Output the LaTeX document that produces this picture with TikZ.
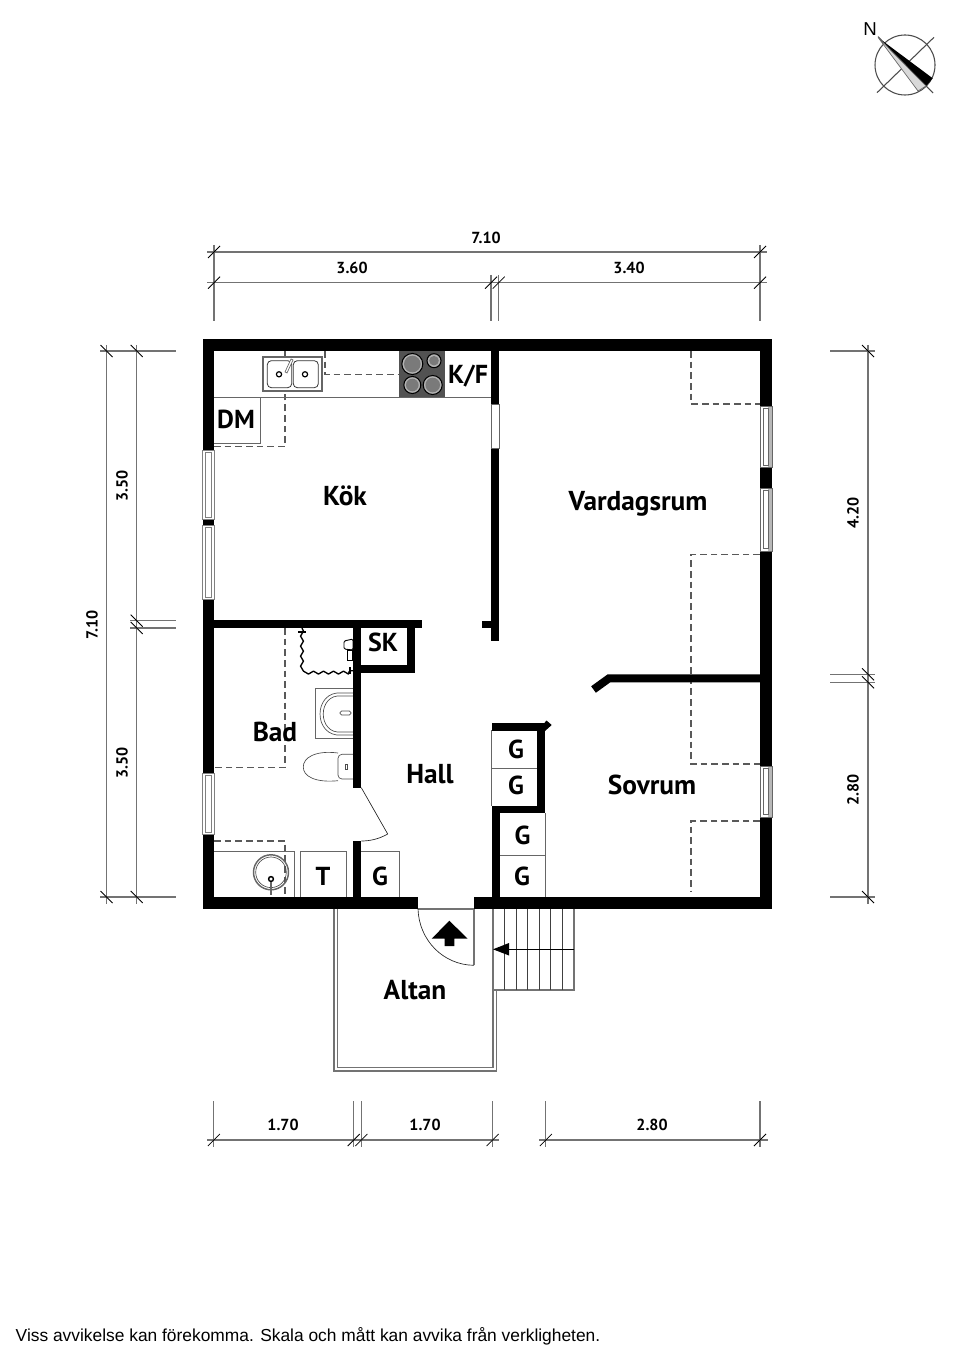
\documentclass[tikz,border=0pt]{standalone}
\usepackage{fontspec}
\setmainfont{Liberation Sans}
\newfontfamily\planfont{PT Sans}
\usetikzlibrary{decorations.pathmorphing}
\tikzset{
	room/.style={font=\planfont\bfseries\fontsize{20.5}{24}\selectfont},
	cell/.style={font=\planfont\bfseries\fontsize{19.5}{22}\selectfont},
	meas/.style={font=\planfont\bfseries\fontsize{12}{14}\selectfont},
	wall/.style={line width=6pt},
	dim/.style={draw=black!55,line width=0.85pt},
	slash/.style={draw=black,line width=0.6pt},
	hidden/.style={draw=black!65,line width=0.8pt,dash pattern=on 5pt off 3pt},
	fix/.style={draw=black!60,line width=0.6pt},
	thin line/.style={draw=black!70,line width=0.5pt},
	gutter/.style={draw=black!55,line width=0.85pt},
}
\newcommand{\tickup}[2]{\draw[slash] (#1-6,#2+6) -- (#1+6,#2-6);}
\newcommand{\tickdn}[2]{\draw[slash] (#1-6,#2-6) -- (#1+6,#2+6);}
\newcommand{\winl}[3]{\fill[white] (#1,#2) rectangle (#1+11.7,#3); \draw[fix,draw=black!50] (#1,#2) rectangle (#1+11.7,#3); \draw[fix,draw=black!50,line width=0.4pt] (#1+2.5,#2+2) rectangle (#1+9,#3-2);}
\newcommand{\winr}[3]{\fill[white] (#1,#2) rectangle (#1+11.7,#3); \fill[black!28] (#1+8,#2) rectangle (#1+11.7,#3); \draw[fix] (#1,#2) rectangle (#1+11.7,#3); \draw[fix,line width=0.4pt] (#1+3.3,#2+2.5) rectangle (#1+8,#3-2.5);}
\begin{document}
\begin{tikzpicture}[x=0.75pt,y=-0.75pt]
	\useasboundingbox (0,0) rectangle (960,1358);
	% dimensions top
	\draw[dim] (207,252) -- (767,252); \draw[dim] (207,282.7) -- (497,282.7); \draw[dim] (492,282.7) -- (767,282.7);
	\draw[dim] (214,245) -- (214,321); \draw[dim] (491,275) -- (491,321); \draw[dim] (498.7,275) -- (498.7,321); \draw[dim] (760,245) -- (760,321);
	\tickup{214}{252} \tickup{760}{252} \tickup{214}{282.7} \tickup{491}{282.7} \tickup{498.7}{282.7} \tickup{760}{282.7}
	\draw (486,238) node[meas] (topall) {7.10}; \draw (352,268) node[meas] (topleft) {3.60}; \draw (629,268) node[meas] (topright) {3.40};
	% dimensions left
	\draw[dim] (106.5,345) -- (106.5,904); \draw[dim] (136.7,345) -- (136.7,904);
	\draw[dim] (100,351) -- (176,351); \draw[dim] (100,897) -- (176,897); \draw[dim] (130,620.7) -- (176,620.7); \draw[dim] (130,628) -- (176,628);
	\tickdn{106.5}{351} \tickdn{106.5}{897} \tickdn{136.7}{351} \tickdn{136.7}{620.7} \tickdn{136.7}{628} \tickdn{136.7}{897}
	\draw (92,625) node[meas,rotate=90] (leftall) {7.10}; \draw (122,486) node[meas,rotate=90] (leftup) {3.50}; \draw (122,763) node[meas,rotate=90] (leftdn) {3.50};
	% dimensions right
	\draw[dim] (868,345) -- (868,904);
	\draw[dim] (830,351) -- (875,351); \draw[dim] (830,674.3) -- (875,674.3); \draw[dim] (830,682.3) -- (875,682.3); \draw[dim] (830,897) -- (875,897);
	\tickdn{868}{351} \tickdn{868}{674.3} \tickdn{868}{682.3} \tickdn{868}{897}
	\draw (853,513) node[meas,rotate=90] (rightup) {4.20}; \draw (853,790) node[meas,rotate=90] (rightdn) {2.80};
	% dimensions bottom
	\draw[dim] (207,1140) -- (359,1140); \draw[dim] (356,1140) -- (499,1140); \draw[dim] (539,1140) -- (768,1140);
	\foreach \xd in {213.8,353.7,361.3,492.6,545.8,760} {\draw[dim] (\xd,1101) -- (\xd,1147); \tickup{\xd}{1140}}
	\draw (283,1125) node[meas] (botone) {1.70}; \draw (425,1125) node[meas] (bottwo) {1.70}; \draw (652,1125) node[meas] (botthree) {2.80};
	% altan and stairs
	\draw[gutter] (334,909) -- (334,1071) -- (496.7,1071) -- (496.7,990); \draw[gutter] (337.3,909) -- (337.3,1067.7) -- (493,1067.7) -- (493,909);
	\draw[gutter] (493,990) -- (574,990) -- (574,909);
	\foreach \xs in {504.7,516,527.3,539,550.7,562} {\draw[thin line,draw=black!75] (\xs,909) -- (\xs,990);}
	\draw[thin line,draw=black] (574,949.3) -- (505,949.3); \fill (493,949.3) -- (509,943) -- (509,955.5) -- cycle;
	\draw[gutter] (418,909) -- (474,909) -- (474,965.3); \draw[thin line,draw=black!85] (418,909) .. controls (419,940) and (443,965) .. (474,965.3);
	\fill (449.3,920.7) -- (467.7,938.7) -- (454.3,938.7) -- (454.3,946) -- (444.7,946) -- (444.7,938.7) -- (431.7,938.7) -- cycle;
	% hidden lines
	\draw[hidden] (214,446.7) -- (285,446.7) -- (285,351); \draw[hidden] (325,351) -- (325,374.3) -- (399,374.3);
	\draw[hidden] (691,351) -- (691,404) -- (760,404); \draw[hidden] (760,554.7) -- (691,554.7) -- (691,764) -- (760,764); \draw[hidden] (760,821) -- (691,821) -- (691,891);
	\draw[hidden] (285,628) -- (285,767.3) -- (214,767.3); \draw[hidden] (214,841) -- (285,841) -- (285,897);
	% kitchen
	\draw[fix] (214,397.3) -- (491,397.3); \draw[fix] (214,443.3) -- (260.3,443.3) -- (260.3,397.3);
	\fill[white] (263.3,357.3) rectangle (321.7,391); \draw[fix,line width=1.3pt] (263.3,357.3) rectangle (321.7,391);
	\draw[fix,draw=black!80,rounded corners=3pt] (267.3,360.7) rectangle (291.7,387.7); \draw[fix,draw=black!80,rounded corners=3pt] (293.3,360.7) rectangle (318.3,387.7);
	\foreach \xs in {279,305} {\draw[black,line width=0.9pt,fill=white] (\xs,374.3) circle (2.6);}
	\draw[fix,fill=white,line width=0.5pt] (285,372) -- (291,359) -- (293,360) -- (287,373) -- cycle;
	\fill[black!68] (399,351) rectangle (445,397.3);
	\foreach \xb/\yb/\rb in {412.3/364/10.5,434/360.7/7,412.3/385/8.5,432.7/385/9.5} {\draw[black,fill=black!30,line width=0.8pt] (\xb,\yb) circle (\rb); \fill[black!52] (\xb,\yb) circle (\rb-2.2);}
	% bath
	\draw[fix] (315.7,688.3) rectangle (353,738.3);
	\draw[thin line] (353,693) -- (342,693) .. controls (312.7,690) and (312.7,738) .. (342,735) -- (353,735); \draw[thin line] (353,696) -- (342,696) .. controls (317,693) and (317,735) .. (342,732) -- (353,732);
	\draw[thin line,fill=white,rounded corners=1.2pt] (340,711) rectangle (351,715);
	\draw[thin line] (338,753) .. controls (315,750) and (303,758) .. (303.3,767) .. controls (303,776) and (315,783) .. (338,780.7);
	\draw[thin line,rounded corners=3pt] (353,754.3) -- (338,754.3) -- (338,779) -- (353,779);
	\draw[thin line] (345.5,764.5) rectangle (347.5,769);
	\draw[black,line width=1pt,line join=round,decorate,decoration={snake,amplitude=1.1,segment length=7.5}] (302,628) -- (302,670.7) -- (353,670.7);
	\draw[black,line width=1pt] (298,632) -- (306,632); \draw[black,line width=1pt] (350,667) -- (350,674);
	\draw[thin line,draw=black,line width=0.7pt,fill=white,rounded corners=1pt] (344,641) -- (353,639) -- (353,650) -- (344,649) -- cycle; \draw[thin line,draw=black,line width=0.7pt,fill=white] (347,650) rectangle (352,660);
	\draw[fix] (214,851.3) -- (294.3,851.3) -- (294.3,897); \draw[fix] (300,897) -- (300,851.3) -- (346,851.3) -- (346,897); \draw[fix] (361,851.7) -- (399.3,851.7) -- (399.3,897);
	\draw[black!60,line width=1.1pt] (271,872.3) circle (17.5); \draw[thin line] (271,872.3) circle (15.3);
	\draw[black,line width=1.1pt] (271,879) circle (2.4); \draw[black!60,line width=1.2pt] (271,882) -- (271,895);
	% closets
	\draw[fix] (491.7,730) -- (491.7,806); \draw[fix] (491.7,768.3) -- (537.3,768.3); \draw[fix] (500,855.3) -- (545,855.3); \draw[fix] (545,813) -- (545,897);
	% walls
	\fill (202.5,339.5) rectangle (772,351); \fill (202.5,339.5) rectangle (214.3,909); \fill (760,339.5) rectangle (772,909);
	\fill (202.5,897.3) rectangle (418.3,909); \fill (474,897.3) rectangle (772,909);
	\fill (491,351) rectangle (499,640.7); \fill (482.3,620.7) rectangle (491,628);
	\fill (214,620) rectangle (422,628); \fill (407.3,628) rectangle (415,672.7); \fill (353,665) rectangle (415,672.7);
	\fill (353,620) rectangle (361.3,787.7); \fill (353,840.7) rectangle (361.3,897.3);
	\draw[wall] (760,678.3) -- (609,678.3) -- (593.5,689.5);
	\fill (491.7,723.3) rectangle (545,730.7); \fill (537.3,723.3) rectangle (545,813.3); \fill (491.7,805.7) rectangle (545,813.3); \fill (491.7,805.7) rectangle (500,897.3);
	\fill (546.5,720.5) -- (551.7,725) -- (545,731) -- (541,727) -- cycle;
	% openings
	\fill[white] (491,404) rectangle (499,448); \draw[fix] (491,404) rectangle (499,448);
	\winl{202.5}{450}{519} \winl{202.5}{525.7}{599} \winl{202.5}{773}{834}
	\winr{760.3}{406}{467.7} \winr{760.3}{488}{551} \winr{760.3}{766}{817}
	% hall door
	\draw[thin line,draw=black!85] (361.3,787.7) -- (387.7,834) .. controls (379,839) and (370,841) .. (361.3,841);
	% compass
	\draw[black!70,line width=0.8pt] (905,65) circle (30); \draw[black!70,line width=0.8pt] (877,92.7) -- (934,37.3); \draw[black!70,line width=0.8pt] (878,36.7) -- (933,93);
	\fill (878.3,37.7) -- (932.7,78.3) -- (926,86) -- cycle; \draw[black!60,fill=black!15,line width=0.5pt] (878.3,37.7) -- (926,86) -- (918,91) -- cycle;
	\draw (870,29.5) node[font=\fontsize{14}{18}\selectfont] (north) {N};
	% rooms
	\draw (345,495.5) node[room] (kok) {Kök}; \draw (638,504) node[room] (vardagsrum) {Vardagsrum}; \draw (275,732) node[room] (bad) {Bad}; \draw (430,774) node[room] (hall) {Hall};
	\draw (652,785) node[room] (sovrum) {Sovrum}; \draw (415,990) node[room] (altan) {Altan};
	\draw (383,642) node[cell] (sk) {SK}; \draw (236,419) node[cell] (dm) {DM}; \draw (468,376) node[cell] (kf) {K/F}; \draw (323,876) node[cell] (tt) {T}; \draw (380,876) node[cell] (gone) {G};
	\draw (516,749) node[cell] (gtwo) {G}; \draw (516,785) node[cell] (gthree) {G}; \draw (522.5,835) node[cell] (gfour) {G}; \draw (522,876) node[cell] (gfive) {G};
	\draw (308,1336) node[font=\fontsize{13.03}{15}\selectfont] (note) {Viss avvikelse kan förekomma. Skala och mått kan avvika från verkligheten.};
\end{tikzpicture}
\end{document}
